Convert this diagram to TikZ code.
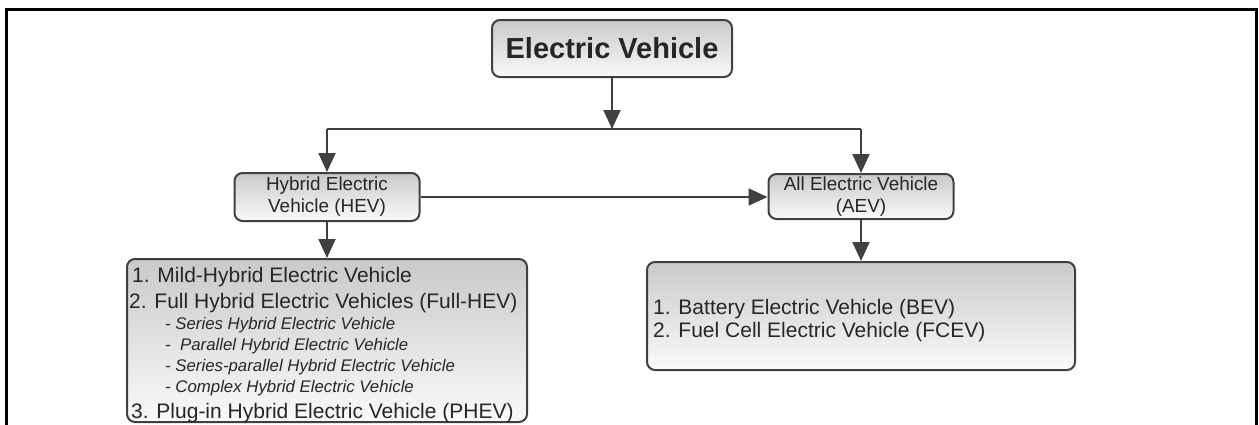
\documentclass[tikz,border=0pt]{standalone}
\usepackage{fontspec}
\setmainfont{Liberation Sans}
\usetikzlibrary{arrows.meta}
\tikzset{
  box/.style={draw=black!75, line width=2pt, rounded corners=8pt,
    left color=gray!42, right color=gray!4, shading angle=0,
    inner sep=0pt, text=black!85},
  conn/.style={draw=black!75, line width=2pt},
  arr/.style={conn, -{Triangle[length=19pt,width=17pt]}, color=black!75},
  bigtxt/.style={font=\fontsize{21}{23}\selectfont, text=black!85, inner sep=0pt, anchor=base west},
  smalltxt/.style={font=\fontsize{16.8}{20}\selectfont\itshape, text=black!85, inner sep=0pt, anchor=base west},
}
\begin{document}
\begin{tikzpicture}[x=1pt,y=-1pt]
\useasboundingbox (0,0) rectangle (1259,424);
\clip (0,0) rectangle (1259,424);
% outer frame
\draw[line width=3pt, black] (6.5,440) -- (6.5,9.5) -- (1256.5,9.5) -- (1256.5,440);

% nodes
\node[box, minimum width=240pt, minimum height=57pt,
      font=\fontsize{29}{34}\selectfont\bfseries] (ev) at (612,48.5) {Electric Vehicle};
\node[box, minimum width=185pt, minimum height=48pt, align=center,
      font=\fontsize{18.9}{22}\selectfont] (hev) at (327,197) {Hybrid Electric\\Vehicle (HEV)};
\node[box, minimum width=185pt, minimum height=45pt, align=center,
      font=\fontsize{18.9}{22}\selectfont] (aev) at (861,196.5) {All Electric Vehicle\\(AEV)};
\node[box, minimum width=400pt, minimum height=163pt] (hevlist) at (327,340.5) {};
\node[box, minimum width=428pt, minimum height=108pt] (aevlist) at (861,316) {};

% list texts
\node[bigtxt] (h1) at (132,282) {1. Mild-Hybrid Electric Vehicle};
\node[bigtxt] (h2) at (129,308) {2. Full Hybrid Electric Vehicles (Full-HEV)};
\node[smalltxt] (h3) at (165,329) {- Series Hybrid Electric Vehicle};
\node[smalltxt] (h4) at (165,350) {-\ \ Parallel Hybrid Electric Vehicle};
\node[smalltxt] (h5) at (165,371) {- Series-parallel Hybrid Electric Vehicle};
\node[smalltxt] (h6) at (165,392) {- Complex Hybrid Electric Vehicle};
\node[bigtxt] (h7) at (131,418) {3. Plug-in Hybrid Electric Vehicle (PHEV)};
\node[bigtxt] (a1) at (653,314) {1. Battery Electric Vehicle (BEV)};
\node[bigtxt] (a2) at (653,337) {2. Fuel Cell Electric Vehicle (FCEV)};

% connectors
\coordinate (bus) at (612,129);
\draw[arr] (ev.south) -- (bus);
\draw[conn] (hev.north |- bus) -- (aev.north |- bus);
\draw[arr] (hev.north |- bus) -- (hev.north);
\draw[arr] (aev.north |- bus) -- (aev.north);
\draw[arr] (hev.east) -- (hev.east -| aev.west);
\draw[arr] (hev.south) -- (hev.south |- hevlist.north);
\draw[arr] (aev.south) -- (aev.south |- aevlist.north);
\end{tikzpicture}
\end{document}
